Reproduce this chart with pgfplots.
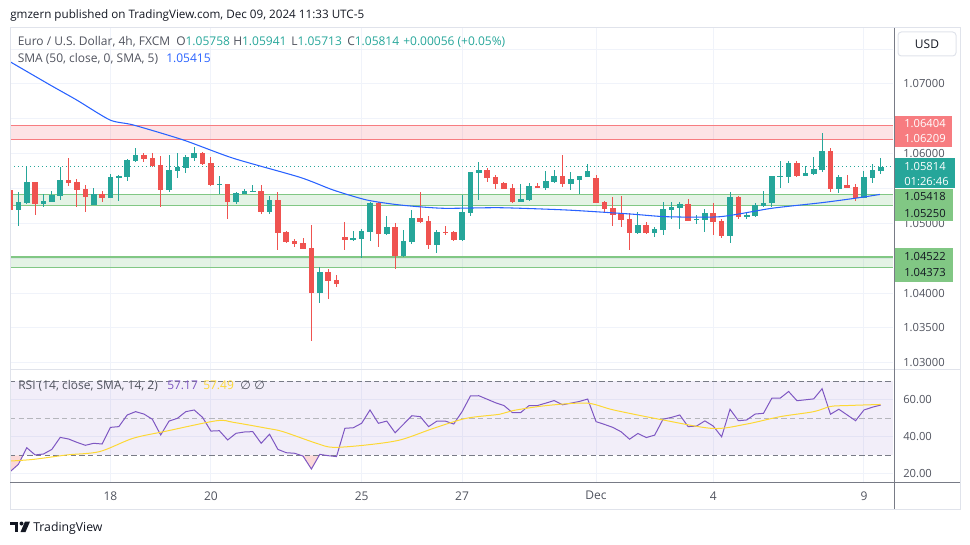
\documentclass[border=0pt]{standalone}
\usepackage{pgfplots}
\pgfplotsset{compat=1.18}
\usepackage{pgfplotstable}
\usepackage{fontspec}
\setmainfont{Open Sans}
\newfontfamily\symfont{DejaVu Sans}

\definecolor{up}{HTML}{26A69A}
\definecolor{dn}{HTML}{EF5350}
\definecolor{smab}{HTML}{2962FF}
\definecolor{gridc}{HTML}{F0F3FA}
\definecolor{axtxt}{HTML}{50535E}
\definecolor{dark}{HTML}{131722}
\definecolor{zred}{HTML}{F23645}
\definecolor{zredline}{HTML}{F77C80}
\definecolor{zgreen}{HTML}{4CAF50}
\definecolor{zgreenline}{HTML}{81C784}
\definecolor{rsiline}{HTML}{7E57C2}
\definecolor{rsima}{HTML}{FDD835}
\definecolor{framec}{HTML}{E0E3EB}
\definecolor{axline}{HTML}{787B86}

\newcommand\tv{\fontsize{8.4}{10}\selectfont}
\newcommand\tvl{\fontsize{9}{11}\selectfont}

% green candles: bar index, open, high, low, close
\pgfplotstableread{
i o h l c
1 1.05197 1.05446 1.04967 1.05307
2 1.05297 1.05824 1.05286 1.05594
4 1.05283 1.05418 1.05240 1.05321
5 1.05311 1.05465 1.05303 1.05412
6 1.05397 1.05814 1.05336 1.05623
10 1.05268 1.05512 1.05260 1.05422
12 1.05369 1.05705 1.05360 1.05666
13 1.05656 1.05694 1.05326 1.05680
14 1.05670 1.05924 1.05613 1.05910
15 1.05900 1.06078 1.05885 1.05981
19 1.05479 1.05981 1.05446 1.05766
20 1.05756 1.06006 1.05656 1.05814
21 1.05799 1.05981 1.05719 1.05957
22 1.05943 1.06092 1.05900 1.06006
25 1.05555 1.05680 1.05422 1.05565
27 1.05311 1.05446 1.05274 1.05432
28 1.05422 1.05489 1.05415 1.05465
29 1.05453 1.05551 1.05453 1.05465
31 1.05168 1.05393 1.05135 1.05336
37 1.04006 1.04370 1.03854 1.04303
41 1.04776 1.04891 1.04752 1.04786
42 1.04781 1.04915 1.04499 1.04891
43 1.04881 1.05311 1.04752 1.05297
45 1.04848 1.05106 1.04841 1.04944
47 1.04532 1.04905 1.04522 1.04748
48 1.04738 1.05192 1.04705 1.05078
51 1.04690 1.04905 1.04580 1.04873
54 1.04762 1.05408 1.04752 1.05164
55 1.05154 1.05738 1.05106 1.05738
56 1.05727 1.05881 1.05336 1.05766
61 1.05311 1.05565 1.05304 1.05350
62 1.05336 1.05584 1.05326 1.05537
64 1.05512 1.05752 1.05479 1.05608
65 1.05594 1.05766 1.05587 1.05680
67 1.05565 1.05733 1.05479 1.05637
68 1.05623 1.05680 1.05422 1.05680
69 1.05670 1.05852 1.05667 1.05752
75 1.04867 1.05168 1.04848 1.04977
77 1.04867 1.04953 1.04809 1.04924
78 1.04905 1.05307 1.04838 1.05207
79 1.05197 1.05307 1.05068 1.05240
80 1.05225 1.05307 1.04924 1.05278
82 1.05053 1.05121 1.04987 1.05068
83 1.05049 1.05207 1.04881 1.05149
86 1.04819 1.05455 1.04723 1.05375
88 1.05088 1.05168 1.05063 1.05116
89 1.05106 1.05288 1.05099 1.05260
90 1.05250 1.05465 1.05231 1.05293
91 1.05288 1.05680 1.05240 1.05680
92 1.05670 1.05900 1.05512 1.05680
93 1.05670 1.05895 1.05575 1.05862
95 1.05684 1.05824 1.05680 1.05719
96 1.05709 1.05948 1.05690 1.05776
97 1.05766 1.06293 1.05733 1.06039
99 1.05494 1.05694 1.05432 1.05661
102 1.05369 1.05752 1.05364 1.05666
103 1.05656 1.05852 1.05584 1.05766
104 1.05758 1.05941 1.05713 1.05814
}\upc

% red candles
\pgfplotstableread{
i o h l c
0 1.05479 1.05580 1.05164 1.05192
3 1.05590 1.05598 1.05121 1.05283
7 1.05623 1.05943 1.05541 1.05575
8 1.05598 1.05637 1.05240 1.05479
9 1.05494 1.05551 1.05168 1.05383
11 1.05422 1.05465 1.05311 1.05369
16 1.05981 1.06006 1.05885 1.05924
17 1.05938 1.06006 1.05816 1.05828
18 1.05838 1.05971 1.05240 1.05479
23 1.06006 1.06029 1.05845 1.05852
24 1.05862 1.05948 1.05541 1.05551
26 1.05565 1.05565 1.05063 1.05311
30 1.05465 1.05551 1.05135 1.05168
32 1.05336 1.05446 1.04618 1.04867
33 1.04873 1.04895 1.04723 1.04738
34 1.04748 1.04776 1.04666 1.04709
35 1.04719 1.04795 1.04626 1.04633
36 1.04651 1.04977 1.03313 1.04006
38 1.04303 1.04342 1.03920 1.04178
39 1.04188 1.04260 1.04092 1.04131
40 1.04805 1.05024 1.04618 1.04766
44 1.05297 1.05311 1.04666 1.04848
46 1.04944 1.05002 1.04342 1.04532
49 1.05078 1.05455 1.05010 1.05024
50 1.05035 1.05106 1.04633 1.04690
52 1.04877 1.04963 1.04834 1.04867
53 1.04873 1.04891 1.04752 1.04762
57 1.05766 1.05791 1.05598 1.05656
58 1.05666 1.05694 1.05489 1.05565
59 1.05584 1.05598 1.05494 1.05498
60 1.05508 1.05565 1.05288 1.05311
63 1.05532 1.05575 1.05515 1.05518
66 1.05680 1.05981 1.05527 1.05570
70 1.05656 1.05694 1.05288 1.05297
71 1.05307 1.05321 1.05168 1.05207
72 1.05221 1.05379 1.04967 1.05121
73 1.05135 1.05393 1.04953 1.05049
74 1.05068 1.05154 1.04618 1.04867
76 1.04977 1.05020 1.04848 1.04867
81 1.05278 1.05350 1.05032 1.05039
84 1.05145 1.05288 1.04834 1.05024
85 1.05035 1.05059 1.04795 1.04819
87 1.05375 1.05393 1.05059 1.05096
94 1.05862 1.05895 1.05670 1.05684
98 1.06039 1.06078 1.05446 1.05494
100 1.05551 1.05694 1.05508 1.05512
101 1.05518 1.05565 1.05326 1.05369
}\dnc

% RSI (14)
\pgfplotstableread{
i rsi
0 21.1
1 25.1
2 34.1
3 30.2
4 30.7
5 33.2
6 39.7
7 38.8
8 37.0
9 35.4
10 36.5
11 36.1
12 45.1
13 45.5
14 51.8
15 53.6
16 52.3
17 49.5
18 41.0
19 48.5
20 50.0
21 53.6
22 54.5
23 50.5
24 43.1
25 43.3
26 38.3
27 41.9
28 42.6
29 42.8
30 36.5
31 41.4
32 33.2
33 31.4
34 31.1
35 29.6
36 22.6
37 30.5
38 29.8
39 29.3
40 44.6
41 44.9
42 47.3
43 54.5
44 47.3
45 48.5
46 42.2
47 46.8
48 51.4
49 50.9
50 45.5
51 48.5
52 48.5
53 46.9
54 53.6
55 62.1
56 62.2
57 60.3
58 58.4
59 56.9
60 53.1
61 53.1
62 56.9
63 56.9
64 58.2
65 59.6
66 57.3
67 58.2
68 59.1
69 60.4
70 48.2
71 46.7
72 45.1
73 42.7
74 38.7
75 41.8
76 39.6
77 40.9
78 49.5
79 50.5
80 51.8
81 45.5
82 45.8
83 48.6
84 45.8
85 40.0
86 54.9
87 48.7
88 49.1
89 52.3
90 52.7
91 60.9
92 60.9
93 64.5
94 59.5
95 60.0
96 60.5
97 66.0
98 52.2
99 54.9
100 51.8
101 48.7
102 54.5
103 56.0
104 57.17
}\rsitab

\begin{document}
\begin{tikzpicture}[font=\tv]
\path[use as bounding box] (0,0) rectangle (727.5pt,-408.75pt);

% ---------- price pane ----------
\begin{axis}[
  at={(7.5pt,-21pt)}, anchor=north west, scale only axis,
  width=662.25pt, height=256.125pt,
  xmin=0, xmax=105.47, ymin=1.029039, ymax=1.078034,
  axis line style={draw=none}, tick style={draw=none},
  xtick={12,24,42,54,70,84,102}, xticklabels={},
  ytick={1.03,1.035,1.04,1.045,1.05,1.055,1.06,1.065,1.07,1.075},
  yticklabels={1.03000,1.03500,1.04000,,1.05000,,1.06000,,1.07000,},
  scaled y ticks=false,
  yticklabel pos=right,
  yticklabel style={anchor=west, inner sep=0pt, xshift=7.5pt, text=axtxt},
  grid=major, major grid style={draw=gridc, line width=0.75pt},
]
% zones
\addplot[draw=none, fill=zred, fill opacity=0.14, forget plot]
  coordinates {(0,1.06209) (105.47,1.06209) (105.47,1.06404) (0,1.06404)} -- cycle;
\addplot[draw=none, fill=zgreen, fill opacity=0.15, forget plot]
  coordinates {(0,1.05250) (105.47,1.05250) (105.47,1.05418) (0,1.05418)} -- cycle;
\addplot[draw=none, fill=zgreen, fill opacity=0.15, forget plot]
  coordinates {(0,1.04373) (105.47,1.04373) (105.47,1.04522) (0,1.04522)} -- cycle;
\addplot[zredline, line width=0.75pt] coordinates {(0,1.06404) (105.47,1.06404)};
\addplot[zredline, line width=0.75pt] coordinates {(0,1.06209) (105.47,1.06209)};
\addplot[zgreenline, line width=0.75pt] coordinates {(0,1.05418) (105.47,1.05418)};
\addplot[zgreenline, line width=0.75pt] coordinates {(0,1.05250) (105.47,1.05250)};
\addplot[zgreenline, line width=1.5pt] coordinates {(0,1.04522) (105.47,1.04522)};
\addplot[zgreenline, line width=0.75pt] coordinates {(0,1.04373) (105.47,1.04373)};
% last price
\addplot[up, line width=0.75pt, dash pattern=on 0.75pt off 2.25pt] coordinates {(0,1.05814) (105.47,1.05814)};

% wicks
\addplot[draw=none, mark=none, forget plot,
  error bars/.cd, y dir=both, y explicit, error mark=none,
  error bar style={draw=up, line width=0.75pt}]
  table[x=i, y expr={(\thisrow{h}+\thisrow{l})/2}, y error expr={(\thisrow{h}-\thisrow{l})/2}] {\upc};
\addplot[draw=none, mark=none, forget plot,
  error bars/.cd, y dir=both, y explicit, error mark=none,
  error bar style={draw=dn, line width=0.75pt}]
  table[x=i, y expr={(\thisrow{h}+\thisrow{l})/2}, y error expr={(\thisrow{h}-\thisrow{l})/2}] {\dnc};
% bodies
\addplot[draw=none, mark=none, forget plot,
  error bars/.cd, y dir=both, y explicit, error mark=none,
  error bar style={draw=up, line width=4.2pt}]
  table[x=i, y expr={(\thisrow{o}+\thisrow{c})/2}, y error expr={abs(\thisrow{c}-\thisrow{o})/2}] {\upc};
\addplot[draw=none, mark=none, forget plot,
  error bars/.cd, y dir=both, y explicit, error mark=none,
  error bar style={draw=dn, line width=4.2pt}]
  table[x=i, y expr={(\thisrow{o}+\thisrow{c})/2}, y error expr={abs(\thisrow{c}-\thisrow{o})/2}] {\dnc};

% SMA 50
\addplot[smab, line width=0.8pt, smooth, tension=0.4] coordinates {
(0,1.0732) (4.79,1.06986) (7.97,1.0677) (11.95,1.06483) (14.73,1.06412)
(20.7,1.06197) (26.68,1.05934) (34.64,1.05661) (38.6,1.05479) (42.6,1.05336)
(46.6,1.05264) (51.7,1.05217) (58.5,1.05225) (66.5,1.05192) (74.06,1.05135)
(78.4,1.05096) (84.8,1.05096) (91.0,1.05217) (96.95,1.05297) (100.9,1.0536)
(103.9,1.05415)};
\end{axis}

% ---------- RSI pane ----------
\begin{axis}[
  at={(7.5pt,-277.125pt)}, anchor=north west, scale only axis,
  width=662.25pt, height=84.375pt,
  xmin=0, xmax=105.47, ymin=15.57, ymax=76.38,
  axis line style={draw=none}, tick style={draw=none},
  xtick={12,24,42,54,70,84,102}, xticklabels={18,20,25,27,Dec,4,9},
  xticklabel style={anchor=center, yshift=-10.3pt, text=axtxt, font=\tvl},
  ytick={20,40,60}, yticklabels={20.00,40.00,60.00},
  yticklabel pos=right,
  yticklabel style={anchor=west, inner sep=0pt, xshift=7.5pt, text=axtxt},
  grid=major, major grid style={draw=gridc, line width=0.75pt},
]
\addplot[draw=none, fill=rsiline, fill opacity=0.1, forget plot]
  coordinates {(0,30) (105.47,30) (105.47,70) (0,70)} -- cycle;
% oversold shading
\addplot[draw=none, fill=dn!22, forget plot]
  coordinates {(0,30) (0,21.1) (1,25.1) (1.55,30)} -- cycle;
\addplot[draw=none, fill=dn!22, forget plot]
  coordinates {(34.73,30) (35,29.6) (36,22.6) (36.94,30)} -- cycle;
\addplot[axline, line width=0.75pt, dash pattern=on 4pt off 2.5pt] coordinates {(0,70) (105.47,70)};
\addplot[axline!55, line width=0.75pt, dash pattern=on 4pt off 2.5pt] coordinates {(0,50) (105.47,50)};
\addplot[axline, line width=0.75pt, dash pattern=on 4pt off 2.5pt] coordinates {(0,30) (105.47,30)};
\addplot[rsiline, line width=0.75pt] table[x=i, y=rsi] {\rsitab};
\addplot[rsima, line width=0.75pt, smooth, tension=0.5] coordinates {
(0,26.9) (2.8,27.8) (6.8,30.2) (10.7,32.0) (14.7,39.2) (18.7,43.1) (24.7,48.7)
(26.7,47.8) (30.7,44.6) (32.6,42.8) (36.6,36.5) (38.6,34.3) (42.6,35.6)
(46.6,38.3) (50.6,44.6) (54.5,50.0) (58.5,52.2) (60.1,54.2) (64.1,56.9)
(68.9,58.2) (72.1,54.5) (78,49.1) (84,44.5) (88,46.9) (92,50.9) (96,53.6)
(98,56.4) (100,56.9) (104,57.49)};
\end{axis}

% ---------- frame and overlays (pixel coordinates) ----------
\begin{scope}[x=0.75pt, y=-0.75pt]
\draw[framec, line width=0.75pt] (10,28) rectangle (960,509);
\draw[framec, line width=0.75pt] (10,369.5) -- (960,369.5);
\draw[axline, line width=0.75pt] (894,28) -- (894,509);
\draw[axline, line width=0.75pt] (10,482) -- (960,482);

% price tags
\fill[zredline] (894.5,116) rectangle (952,147.5);
\node[anchor=west, inner sep=0pt, text=white] at (904,123.5) {1.06404};
\node[anchor=west, inner sep=0pt, text=white] at (904,139) {1.06209};
\fill[up] (894.5,158) rectangle (955,188.5);
\node[anchor=west, inner sep=0pt, text=white] at (904,166.7) {1.05814};
\node[anchor=west, inner sep=0pt, text=white] at (904,181.5) {01:26:46};
\fill[zgreenline] (894.5,189.5) rectangle (953,221.5);
\node[anchor=west, inner sep=0pt, text=dark] at (904,197) {1.05418};
\node[anchor=west, inner sep=0pt, text=dark] at (904,213.5) {1.05250};
\fill[zgreenline] (894.5,248) rectangle (953,282);
\node[anchor=west, inner sep=0pt, text=dark] at (904,256.5) {1.04522};
\node[anchor=west, inner sep=0pt, text=dark] at (904,273) {1.04373};

% currency box
\fill[white] (898,32) rectangle (956,56);
\draw[framec, line width=0.75pt, rounded corners=2.5pt] (898,32) rectangle (956,56);
\node[text=dark, font=\tvl] at (927,44) {USD};

% header and legends
\node[anchor=base west, inner sep=0pt, text=dark, font=\fontsize{8.75}{10}\selectfont] at (10,18.3) {gmzern published on TradingView.com, Dec 09, 2024 11:33 UTC-5};
\begin{scope}[font=\tvl]
\node[anchor=base west, inner sep=0pt, text=axtxt] at (17.5,45.7) {Euro / U.S. Dollar, 4h, FXCM};
\node[anchor=base west, inner sep=0pt] at (176,45.7) {\textcolor{axtxt}{O}\textcolor{up}{1.05758}};
\node[anchor=base west, inner sep=0pt] at (233,45.7) {\textcolor{axtxt}{H}\textcolor{up}{1.05941}};
\node[anchor=base west, inner sep=0pt] at (291,45.7) {\textcolor{axtxt}{L}\textcolor{up}{1.05713}};
\node[anchor=base west, inner sep=0pt] at (347,45.7) {\textcolor{axtxt}{C}\textcolor{up}{1.05814}};
\node[anchor=base west, inner sep=0pt, text=up] at (403,45.7) {+0.00056 (+0.05\%)};
\node[anchor=base west, inner sep=0pt, text=axtxt] at (17.5,62.7) {SMA (50, close, 0, SMA, 5)};
\node[anchor=base west, inner sep=0pt, text=smab] at (166,62.7) {1.05415};
\node[anchor=base west, inner sep=0pt, text=axtxt] at (18,389.3) {RSI (14, close, SMA, 14, 2)};
\node[anchor=base west, inner sep=0pt, text=rsiline] at (167,389.3) {57.17};
\node[anchor=base west, inner sep=0pt, text=rsima] at (203,389.3) {57.49};
\node[anchor=base west, inner sep=0pt, text=axtxt] at (240,389.3) {{\symfont ∅}};
\node[anchor=base west, inner sep=0pt, text=axtxt] at (254,389.3) {{\symfont ∅}};
\end{scope}

% logo
\fill[dark] (10,521.5) rectangle (18,525);
\fill[dark] (14.5,521.5) rectangle (18,532);
\fill[dark] (21.5,523.5) circle (2);
\fill[dark] (20.5,532) -- (25,521.5) -- (30,521.5) -- (25.5,532) -- cycle;
\node[anchor=base west, inner sep=0pt, text=dark, font=\fontsize{9.2}{10}\selectfont] at (33,531.5) {TradingView};
\end{scope}
\end{tikzpicture}
\end{document}
